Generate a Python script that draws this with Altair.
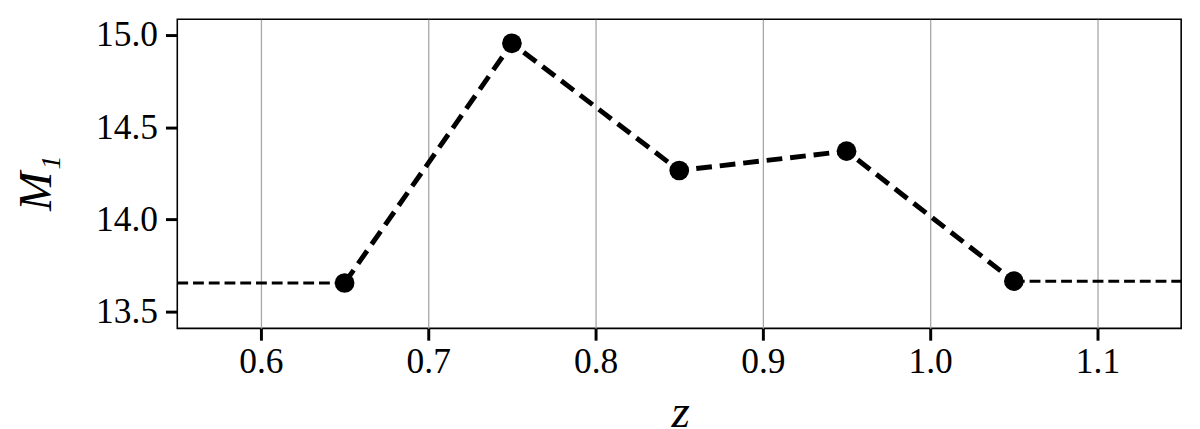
import altair as alt
import pandas as pd

# data
z_vals = [0.65, 0.75, 0.85, 0.95, 1.05]
m1_vals = [13.655, 14.955, 14.265, 14.37, 13.665]

left_x = [0.55, 0.65]
left_y = [13.655, 13.655]
right_x = [1.05, 1.15]
right_y = [13.665, 13.665]

x_major = [0.6, 0.7, 0.8, 0.9, 1.0, 1.1]
y_major = [13.5, 14.0, 14.5, 15.0]

main = pd.DataFrame({"z": z_vals, "m": m1_vals})
side = pd.DataFrame({
    "z": left_x + right_x,
    "m": left_y + right_y,
    "seg": ["left", "left", "right", "right"],
})

FONT = "Liberation Serif"
xs = alt.Scale(domain=[0.55, 1.15], nice=False, zero=False)
ys = alt.Scale(domain=[13.409, 15.085], nice=False, zero=False)

x_axis = alt.Axis(
    values=x_major, format=".1f", domain=False,
    grid=True, gridColor="#a6a6a6", gridWidth=1.3,
    tickSize=12, tickWidth=3, tickColor="#000000",
    labelFont=FONT, labelFontSize=36, labelColor="#000000", labelPadding=5,
    title="z", titleFont=FONT, titleFontStyle="italic", titleFontWeight="normal",
    titleFontSize=48, titleColor="#000000", titleX=511, titleY=100,
    titleBaseline="alphabetic", titleAlign="center",
)
y_axis = alt.Axis(
    values=y_major, format=".1f", domain=False, grid=False,
    tickSize=12, tickWidth=3, tickColor="#000000",
    labelFont=FONT, labelFontSize=36, labelColor="#000000", labelPadding=8,
    title="M₁", titleFont=FONT, titleFontStyle="italic", titleFontWeight="normal",
    titleFontSize=48, titleColor="#000000", titleX=-143, titleY=166,
    titleBaseline="middle", titleAlign="center", titleAngle=270,
)

line = alt.Chart(main).mark_line(
    color="black", strokeWidth=5, strokeDash=[16, 8]
).encode(
    x=alt.X("z:Q", scale=xs, axis=x_axis),
    y=alt.Y("m:Q", scale=ys, axis=y_axis),
)

sides = alt.Chart(side).mark_line(
    color="black", strokeWidth=3, strokeDash=[11, 5]
).encode(
    x=alt.X("z:Q", scale=xs, axis=x_axis),
    y=alt.Y("m:Q", scale=ys, axis=y_axis),
    detail="seg:N",
)

points = alt.Chart(main).mark_circle(color="black", opacity=1, size=400).encode(
    x=alt.X("z:Q", scale=xs, axis=x_axis),
    y=alt.Y("m:Q", scale=ys, axis=y_axis),
)

chart = alt.layer(line, sides, points).properties(
    width=1020, height=314,
    background="white",
).configure_view(
    stroke="#000000", strokeWidth=1.6
)

chart.save("out.html", embed_options={"renderer": "svg", "actions": False})
